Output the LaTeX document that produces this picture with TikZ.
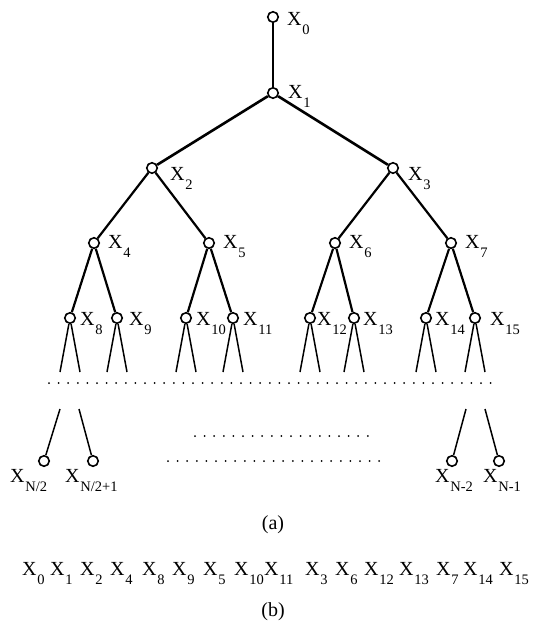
\documentclass[tikz,border=0pt]{standalone}
\usepackage{fontspec}
\setmainfont{Liberation Serif}
\newcommand{\Xs}[1]{X\kern0.8pt\raisebox{-9.5pt}{\fontsize{14.5}{14.5}\selectfont #1}}
\begin{document}
\begin{tikzpicture}[x=1pt,y=-1pt,
  vtx/.style={circle,draw,line width=1.6pt,inner sep=0pt,minimum size=10.5pt,fill=white},
  lbl/.style={anchor=base west,inner sep=0pt,font=\fontsize{20}{20}\selectfont},
  captext/.style={anchor=center,inner sep=0pt,font=\fontsize{20}{20}\selectfont},
  edgezero/.style={line width=1.1pt},
  edgetop/.style={line width=2.6pt},
  edgemid/.style={line width=2.2pt},
  leafline/.style={line width=1.5pt},
  dotline/.style={line width=2pt,dash pattern=on 0pt off 9.6pt,line cap=round}]
\useasboundingbox (0,0) rectangle (546,624);
% tree nodes
\node[vtx] (n0) at (273,17) {};
\node[vtx] (n1) at (273,93) {};
\node[vtx] (n2) at (152,168) {};
\node[vtx] (n3) at (393,168) {};
\node[vtx] (n4) at (94,243) {};
\node[vtx] (n5) at (209,243) {};
\node[vtx] (n6) at (335,243) {};
\node[vtx] (n7) at (451,243) {};
\foreach \i/\x in {8/70,9/117,10/186,11/233,12/310,13/354,14/426,15/475}
  \node[vtx] (n\i) at (\x,318) {};
% labels
\node[lbl] (l0) at (287,25) {\Xs{0}};
\node[lbl] (l1) at (288,98) {\Xs{1}};
\node[lbl] (l2) at (170,180) {\Xs{2}};
\node[lbl] (l3) at (408,180) {\Xs{3}};
\node[lbl] (l4) at (108,248) {\Xs{4}};
\node[lbl] (l5) at (223,248) {\Xs{5}};
\node[lbl] (l6) at (349,248) {\Xs{6}};
\node[lbl] (l7) at (465,248) {\Xs{7}};
\foreach \i/\x in {8/80,9/129,10/196,11/243,12/317,13/363,14/435,15/490}
  \node[lbl] (l\i) at (\x,325) {\Xs{\i}};
% edges
\draw[edgezero] (n0) -- (n1);
\draw[edgetop] (n1) -- (n2);
\draw[edgetop] (n1) -- (n3);
\draw[edgemid] (n2) -- (n4);
\draw[edgemid] (n2) -- (n5);
\draw[edgemid] (n3) -- (n6);
\draw[edgemid] (n3) -- (n7);
\draw[edgemid] (n4) -- (n8);
\draw[edgemid] (n4) -- (n9);
\draw[edgemid] (n5) -- (n10);
\draw[edgemid] (n5) -- (n11);
\draw[edgemid] (n6) -- (n12);
\draw[edgemid] (n6) -- (n13);
\draw[edgemid] (n7) -- (n14);
\draw[edgemid] (n7) -- (n15);
% leaf stubs
\foreach \i/\x in {8/70,9/117,10/186,11/233,12/310,13/354,14/426,15/475}{
  \coordinate (a\i) at (\x-10,372);
  \coordinate (b\i) at (\x+10,372);
  \draw[leafline] (n\i) -- (a\i);
  \draw[leafline] (n\i) -- (b\i);
}
% dotted separator
\coordinate (d1) at (49,383);
\coordinate (d2) at (492,383);
\draw[dotline] (d1) -- (d2);
% bottom leaves
\node[vtx] (m1) at (44,461) {};
\node[vtx] (m2) at (93,461) {};
\node[vtx] (m3) at (452,461) {};
\node[vtx] (m4) at (499,461) {};
\coordinate (t1) at (60,409);
\coordinate (t2) at (79,409);
\coordinate (t3) at (466,409);
\coordinate (t4) at (485,409);
\draw[leafline] (t1) -- (m1);
\draw[leafline] (t2) -- (m2);
\draw[leafline] (t3) -- (m3);
\draw[leafline] (t4) -- (m4);
\node[lbl] (k1) at (10,482) {\Xs{N/2}};
\node[lbl] (k2) at (65,482) {\Xs{N/2+1}};
\node[lbl] (k3) at (435,482) {\Xs{N-2}};
\node[lbl] (k4) at (483,482) {\Xs{N-1}};
% middle dotted lines
\coordinate (e1) at (195,436);
\coordinate (e2) at (373,436);
\coordinate (f1) at (168,461);
\coordinate (f2) at (388,461);
\draw[dotline] (e1) -- (e2);
\draw[dotline] (f1) -- (f2);
% captions
\node[captext] (capa) at (273,525) {(a)};
\node[captext] (capb) at (273,612) {(b)};
% sequence
\foreach \j/\s/\x in {0/0/22,1/1/50,2/2/80,3/4/110,4/8/142,5/9/172,6/5/203,7/10/234,8/11/264,9/3/305,10/6/335,11/12/364,12/13/399,13/7/436,14/14/463,15/15/499}
  \node[lbl] (s\j) at (\x,575) {\Xs{\s}};
\end{tikzpicture}
\end{document}
